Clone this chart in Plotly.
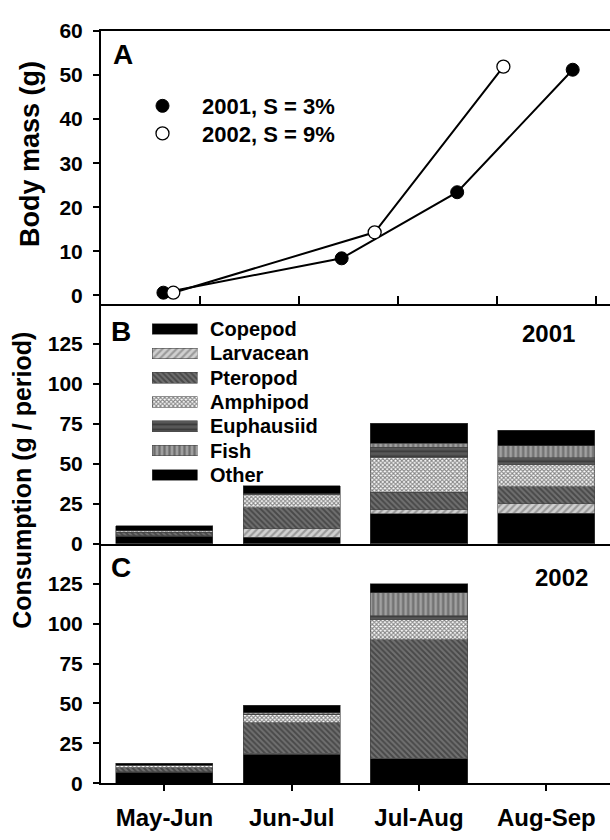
import plotly.graph_objects as go

# ---------------- Data ----------------
# Panel A: body mass (g) vs day of year
days_2001 = [139, 193, 228, 263]
mass_2001 = [0.6, 8.4, 23.4, 51.2]
days_2002 = [142, 203, 242]
mass_2002 = [0.6, 14.3, 51.9]
day_ticks = [120, 150, 180, 210, 240, 270]
mass_ticks = [0, 10, 20, 30, 40, 50, 60]

# Panels B/C: consumption (g / period) by prey
periods = ["May-Jun", "Jun-Jul", "Jul-Aug", "Aug-Sep"]
prey_names = ["Copepod", "Larvacean", "Pteropod", "Amphipod", "Euphausiid", "Fish", "Other"]

copepod_2001 = [4.8, 4.0, 18.6, 19.2]
larvacean_2001 = [0.3, 5.5, 2.6, 5.7]
pteropod_2001 = [2.2, 13.0, 11.0, 10.6]
amphipod_2001 = [0.7, 8.0, 22.0, 13.9]
euphausiid_2001 = [0.2, 0.6, 6.0, 4.3]
fish_2001 = [0.0, 0.3, 2.5, 7.5]
other_2001 = [3.0, 5.0, 12.6, 9.6]

copepod_2002 = [7.0, 18.3, 15.3, None]
larvacean_2002 = [0.3, 0.4, 0.5, None]
pteropod_2002 = [2.4, 19.2, 74.2, None]
amphipod_2002 = [1.3, 4.9, 12.5, None]
euphausiid_2002 = [0.2, 0.5, 2.5, None]
fish_2002 = [0.0, 0.8, 14.3, None]
other_2002 = [1.5, 4.7, 5.5, None]

cons_ticks = [0, 25, 50, 75, 100, 125]

# ---------------- Styles ----------------
FONT = "Liberation Sans, Arial, sans-serif"
styles = {
    "Copepod": dict(color="#000000", pattern=dict(shape="")),
    "Larvacean": dict(color="#d0d0d0", pattern=dict(shape="/", fgcolor="#666666", bgcolor="#d0d0d0", size=5, solidity=0.45)),
    "Pteropod": dict(color="#707070", pattern=dict(shape="\\", fgcolor="#222222", bgcolor="#707070", size=4, solidity=0.5)),
    "Amphipod": dict(color="#ffffff", pattern=dict(shape="x", fgcolor="#101010", bgcolor="#ffffff", size=3, solidity=0.6)),
    "Euphausiid": dict(color="#585858", pattern=dict(shape="-", fgcolor="#1a1a1a", bgcolor="#585858", size=5, solidity=0.35)),
    "Fish": dict(color="#a0a0a0", pattern=dict(shape="|", fgcolor="#3c3c3c", bgcolor="#a0a0a0", size=5, solidity=0.45)),
    "Other": dict(color="#000000", pattern=dict(shape="")),
}
series_2001 = [copepod_2001, larvacean_2001, pteropod_2001, amphipod_2001,
               euphausiid_2001, fish_2001, other_2001]
series_2002 = [copepod_2002, larvacean_2002, pteropod_2002, amphipod_2002,
               euphausiid_2002, fish_2002, other_2002]

fig = go.Figure()

# Panel A
mk01 = dict(size=13, color="black", line=dict(color="black", width=1))
mk02 = dict(size=13, color="white", line=dict(color="black", width=1.3))
fig.add_trace(go.Scatter(x=days_2001, y=mass_2001, mode="lines+markers", xaxis="x", yaxis="y",
                         line=dict(color="black", width=2), marker=mk01, showlegend=False))
fig.add_trace(go.Scatter(x=days_2002, y=mass_2002, mode="lines+markers", xaxis="x", yaxis="y",
                         line=dict(color="black", width=2), marker=mk02, showlegend=False))
fig.add_trace(go.Scatter(x=[None], y=[None], mode="markers", name="2001, S = 3%",
                         marker=mk01, legend="legend"))
fig.add_trace(go.Scatter(x=[None], y=[None], mode="markers", name="2002, S = 9%",
                         marker=mk02, legend="legend2"))

# Panels B and C
for name, vals in zip(prey_names, series_2001):
    st = styles[name]
    fig.add_trace(go.Bar(x=periods, y=vals, xaxis="x2", yaxis="y2", showlegend=False,
                         marker=dict(color=st["color"], pattern=st["pattern"],
                                     line=dict(color="#444444", width=0.6))))
for name, vals in zip(prey_names, series_2002):
    st = styles[name]
    fig.add_trace(go.Bar(x=periods, y=vals, xaxis="x3", yaxis="y3", showlegend=False,
                         marker=dict(color=st["color"], pattern=st["pattern"],
                                     line=dict(color="#444444", width=0.6))))

# Legend patches for panel B (drawn as small horizontal bars on an overlay axis)
for i, name in enumerate(prey_names):
    st = styles[name]
    fig.add_trace(go.Bar(x=[1], y=[i], orientation="h", width=0.44, xaxis="x4", yaxis="y4",
                         showlegend=False,
                         marker=dict(color=st["color"], pattern=st["pattern"],
                                     line=dict(color="#444444", width=0.6))))

W, H = 610, 840
def px(xp):
    return xp / W
def py(yp):
    return 1 - yp / H

x_dom = [px(100.7), 1.0]
axis_common = dict(showgrid=False, zeroline=False, showline=True, linecolor="black", linewidth=1.5,
                   tickcolor="black", tickwidth=1.5)
tickfont = dict(family=FONT, size=21, color="black", weight="bold")

annotations = []
def ann(text, x, y, size, anchor="center", angle=0):
    annotations.append(dict(text=text, x=px(x), y=py(y), xref="paper", yref="paper",
                            xanchor=anchor, yanchor="middle", showarrow=False, textangle=angle,
                            font=dict(family=FONT, size=size, color="black", weight="bold")))

ann("A", 123, 44, 28)
ann("B", 121, 329, 28)
ann("C", 121, 571, 28)
ann("2001", 548, 331, 24)
ann("2002", 561, 581, 24)
ann("Body mass (g)", 30, 146, 27, angle=-90)
ann("Consumption (g / period)", 22, 482, 25, angle=-90)
for i, name in enumerate(prey_names):
    ann(name, 208, 326 + 25 * i, 20, anchor="left")

leg_common = dict(xanchor="left", yanchor="middle", bgcolor="rgba(0,0,0,0)",
                  font=dict(family=FONT, size=22, color="black", weight="bold"),
                  itemwidth=69, borderwidth=0)

fig.update_layout(
    width=W, height=H, margin=dict(l=0, r=0, t=0, b=0),
    paper_bgcolor="white", plot_bgcolor="white",
    barmode="stack", bargap=0.237,
    font=dict(family=FONT, color="black"),
    showlegend=True,
    legend=dict(x=px(123), y=py(96.7), **leg_common),
    legend2=dict(x=px(123), y=py(125), **leg_common),
    xaxis=dict(domain=x_dom, anchor="y", range=[120, 274.3], tickvals=day_ticks, ticks="inside",
               ticklen=8, showticklabels=False, mirror=True, **axis_common),
    yaxis=dict(domain=[py(300), py(19.5)], anchor="x", range=[-1.92, 60], tickvals=mass_ticks,
               ticks="outside", ticklen=6, tickfont=tickfont, ticklabelstandoff=6, **axis_common),
    xaxis2=dict(domain=x_dom, anchor="y2", range=[-0.5, 3.5], categoryorder="array",
                categoryarray=periods, ticks="", showticklabels=False, **axis_common),
    yaxis2=dict(domain=[py(546.7), py(300)], anchor="x2", range=[0, 150], tickvals=cons_ticks,
                ticks="outside", ticklen=6, tickfont=tickfont, ticklabelstandoff=6, **axis_common),
    xaxis3=dict(domain=x_dom, anchor="y3", range=[-0.5, 3.5], categoryorder="array",
                categoryarray=periods, ticks="outside", ticklen=6, ticklabelstandoff=6,
                tickfont=dict(family=FONT, size=24, color="black", weight="bold"), **axis_common),
    yaxis3=dict(domain=[py(793), py(546.7)], anchor="x3", range=[0, 150], tickvals=cons_ticks,
                ticks="outside", ticklen=6, tickfont=tickfont, ticklabelstandoff=6, **axis_common),
    xaxis4=dict(domain=[px(152), px(197.5)], anchor="y4", range=[0, 1], visible=False, fixedrange=True),
    yaxis4=dict(domain=[py(488.5), py(313.5)], anchor="x4", range=[6.5, -0.5], visible=False, fixedrange=True),
    annotations=annotations,
)

fig.write_html("out.html")
